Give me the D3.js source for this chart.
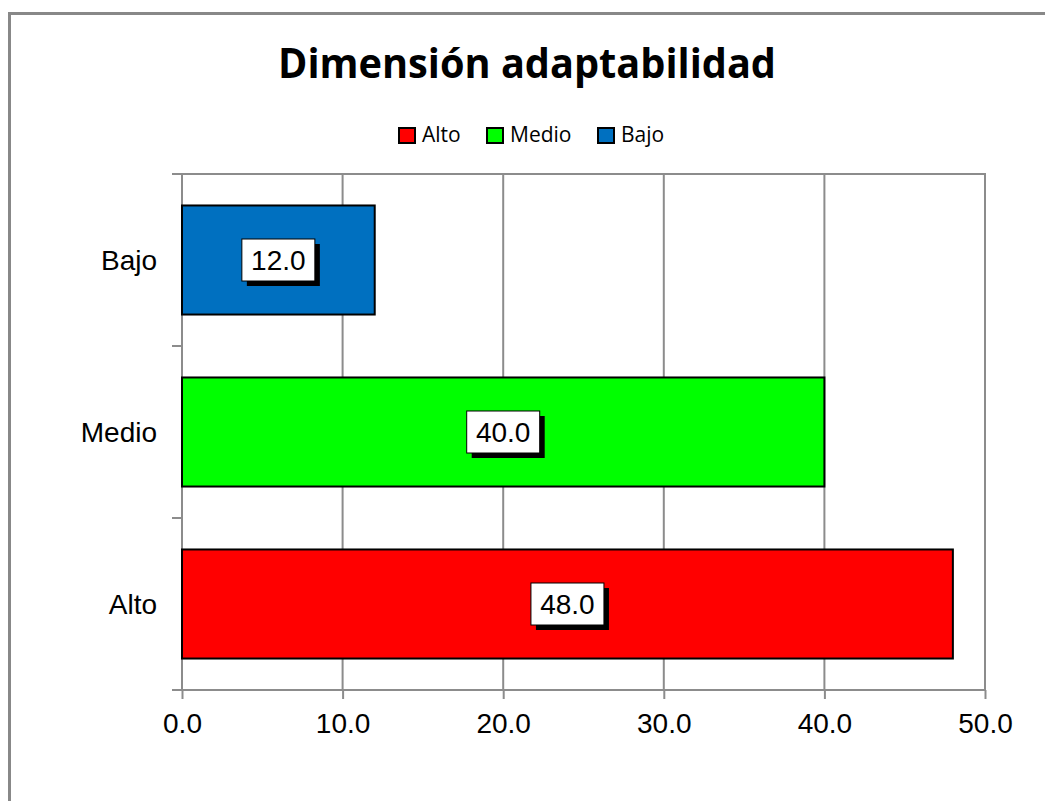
<!DOCTYPE html>
<html>
<head>
<meta charset="utf-8">
<script src="https://cdn.jsdelivr.net/npm/d3@7"></script>
<style>
  body { margin: 0; background: #fff; }
  svg { display: block; }
</style>
</head>
<body>
<script>
const categories = ["Alto", "Medio", "Bajo"];
const values = [48.0, 40.0, 12.0];
const colors = ["#FF0000", "#00FF00", "#0070C0"];
const xTicks = [0, 10, 20, 30, 40, 50];
const title = "Dimensión adaptabilidad";

const W = 1045, H = 801;
const svg = d3.select("body").append("svg").attr("width", W).attr("height", H);

// outer frame
svg.append("rect").attr("x", 9.5).attr("y", 13.5).attr("width", 1060).attr("height", 820)
  .attr("fill", "#fff").attr("stroke", "#888").attr("stroke-width", 3);

const pLeft = 182, pRight = 985, pTop = 174, pBottom = 690;
const order = ["Bajo", "Medio", "Alto"];
const x = d3.scaleLinear().domain([0, 50]).range([pLeft, pRight]);
const y = d3.scaleBand().domain(order).range([pTop, pBottom])
  .paddingInner(0.366).paddingOuter(0.183);
const yCat = d3.scaleBand().domain(order).range([pTop, pBottom]);
const arial = "Liberation Sans, Arial, sans-serif";

// gridlines
svg.append("g").selectAll("line").data(xTicks.slice(1)).join("line")
  .attr("x1", d => x(d)).attr("x2", d => x(d)).attr("y1", pTop).attr("y2", pBottom)
  .attr("stroke", "#8c8c8c").attr("stroke-width", 2);
// top border
svg.append("line").attr("x1", pLeft).attr("x2", pRight + 1).attr("y1", pTop).attr("y2", pTop)
  .attr("stroke", "#8c8c8c").attr("stroke-width", 2);

// bottom axis
const xAxis = svg.append("g").attr("transform", `translate(0,${pBottom})`)
  .call(d3.axisBottom(x).tickValues(xTicks).tickFormat(d3.format(".1f")).tickSize(9).tickSizeOuter(0));
xAxis.select(".domain").attr("stroke", "#8c8c8c").attr("stroke-width", 2)
  .attr("d", `M${pLeft - 10},0H${pRight}`);
xAxis.selectAll(".tick line").attr("stroke", "#8c8c8c").attr("stroke-width", 2);
xAxis.selectAll(".tick text").attr("font-family", arial)
  .attr("font-size", 28).attr("fill", "#000").attr("y", 0).attr("dy", 0)
  .attr("transform", "translate(0,43)");

// left axis
svg.append("line").attr("x1", pLeft).attr("x2", pLeft).attr("y1", pTop).attr("y2", pBottom)
  .attr("stroke", "#8c8c8c").attr("stroke-width", 2);
const catTicks = [pTop, ...order.map(c => yCat(c) + yCat.bandwidth())];
svg.append("g").selectAll("line").data(catTicks).join("line")
  .attr("x1", pLeft - 10).attr("x2", pLeft).attr("y1", d => d).attr("y2", d => d)
  .attr("stroke", "#8c8c8c").attr("stroke-width", 2);
svg.append("g").selectAll("text").data(categories).join("text")
  .attr("x", 157).attr("y", d => yCat(d) + yCat.bandwidth() / 2 + 10)
  .attr("text-anchor", "end").attr("font-family", arial)
  .attr("font-size", 28).attr("fill", "#000").text(d => d);

// bars
svg.append("g").selectAll("rect").data(categories).join("rect")
  .attr("x", x(0)).attr("y", d => y(d))
  .attr("width", (d, i) => x(values[i]) - x(0)).attr("height", y.bandwidth())
  .attr("fill", (d, i) => colors[i]).attr("stroke", "#000").attr("stroke-width", 2);

// data labels
const lab = svg.append("g").selectAll("g").data(categories).join("g")
  .attr("transform", (d, i) => `translate(${(x(0) + x(values[i])) / 2},${y(d) + y.bandwidth() / 2})`);
const bw = 73, bh = 42;
lab.append("rect").attr("x", -bw / 2 + 5).attr("y", -bh / 2 + 5).attr("width", bw).attr("height", bh).attr("fill", "#000");
lab.append("rect").attr("x", -bw / 2).attr("y", -bh / 2).attr("width", bw).attr("height", bh)
  .attr("fill", "#fff").attr("stroke", "#000").attr("stroke-width", 1);
lab.append("text").attr("text-anchor", "middle").attr("y", 10)
  .attr("font-family", arial).attr("font-size", 28).attr("fill", "#000")
  .text((d, i) => d3.format(".1f")(values[i]));

// title
svg.append("text").attr("x", 527).attr("y", 78).attr("text-anchor", "middle")
  .attr("font-family", "Open Sans, Noto Sans, sans-serif").attr("font-weight", "bold")
  .attr("font-size", 42).attr("textLength", 498).attr("lengthAdjust", "spacingAndGlyphs")
  .attr("fill", "#000").text(title);

// legend
const legX = [398, 486, 597];
const leg = svg.append("g").selectAll("g").data(categories).join("g")
  .attr("transform", (d, i) => `translate(${legX[i]},127)`);
leg.append("rect").attr("x", 1).attr("y", 1).attr("width", 16).attr("height", 15)
  .attr("fill", (d, i) => colors[i]).attr("stroke", "#000").attr("stroke-width", 2);
leg.append("text").attr("x", 24).attr("y", 15)
  .attr("font-family", "Open Sans, Noto Sans, sans-serif").attr("font-size", 21).attr("fill", "#000")
  .text(d => d);
</script>
</body>
</html>
